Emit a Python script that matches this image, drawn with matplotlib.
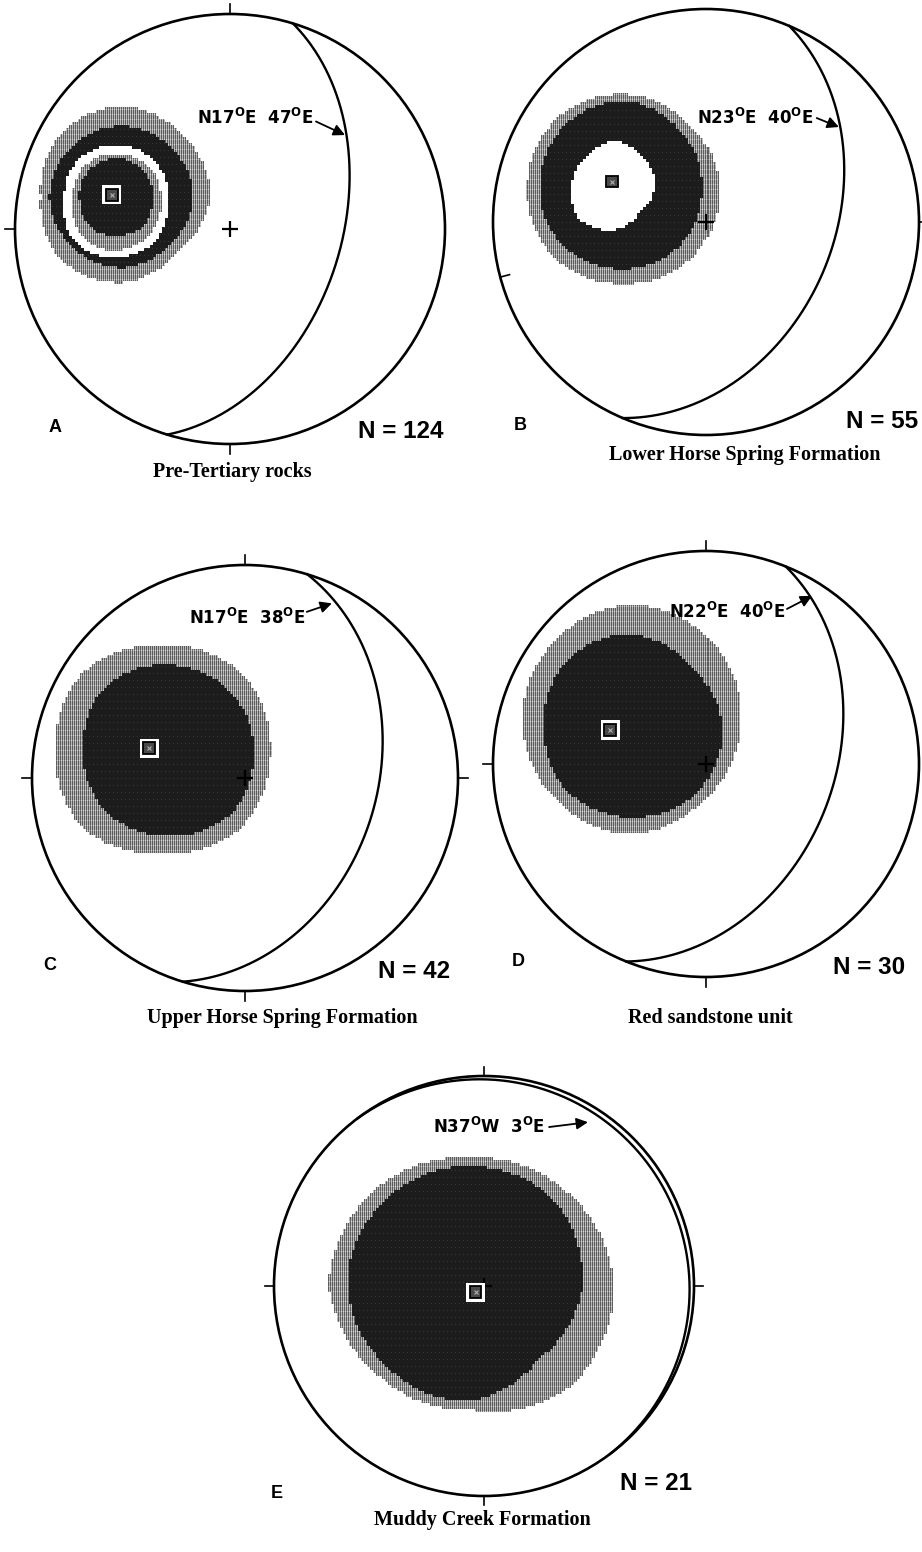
import numpy as np
import matplotlib
matplotlib.use("Agg")
import matplotlib.pyplot as plt
from matplotlib.patches import Circle, Rectangle

plt.rcParams['mathtext.fontset'] = 'custom'
plt.rcParams['mathtext.rm'] = 'DejaVu Sans:bold'
plt.rcParams['mathtext.default'] = 'rm'

W, H = 922, 1552

# panels, number of poles and rock unit
panels = ['A', 'B', 'C', 'D', 'E']
n_poles = [124, 55, 42, 30, 21]
units = ['Pre-Tertiary rocks', 'Lower Horse Spring Formation',
         'Upper Horse Spring Formation', 'Red sandstone unit',
         'Muddy Creek Formation']

# mean bedding plane: strike azimuth and dip (degrees)
strikes = [17, 23, 17, 22, 323]
dips = [47, 40, 38, 40, 3]

# density maximum (net units, x east, y north)
max_x = [-0.55, -0.44, -0.45, -0.45, -0.04]
max_y = [0.16, 0.19, 0.14, 0.16, -0.03]

# contour boundaries, outermost first: centre and radius toward
# E, NE, N, NW, W, SW, S, SE (net units)
levels_A_centres = [(-0.50, 0.15), (-0.50, 0.15), (-0.53, 0.13), (-0.53, 0.13), (-0.53, 0.13)]
levels_A_radii = [[0.41, 0.40, 0.42, 0.41, 0.38, 0.41, 0.40, 0.36],
                  [0.33, 0.32, 0.33, 0.33, 0.34, 0.33, 0.33, 0.31],
                  [0.24, 0.26, 0.26, 0.26, 0.24, 0.27, 0.26, 0.26],
                  [0.21, 0.22, 0.22, 0.22, 0.20, 0.23, 0.23, 0.22],
                  [0.17, 0.19, 0.20, 0.19, 0.17, 0.17, 0.16, 0.17]]
levels_B_centres = [(-0.39, 0.16), (-0.39, 0.16), (-0.44, 0.17)]
levels_B_radii = [[0.45, 0.43, 0.44, 0.45, 0.45, 0.46, 0.45, 0.46],
                  [0.37, 0.38, 0.41, 0.40, 0.39, 0.39, 0.38, 0.38],
                  [0.20, 0.20, 0.21, 0.18, 0.19, 0.22, 0.21, 0.18]]
levels_C_centres = [(-0.39, 0.13), (-0.36, 0.13)]
levels_C_radii = [[0.51, 0.52, 0.49, 0.52, 0.50, 0.52, 0.48, 0.52],
                  [0.40, 0.40, 0.40, 0.42, 0.40, 0.41, 0.40, 0.42]]
levels_D_centres = [(-0.35, 0.20), (-0.35, 0.18)]
levels_D_radii = [[0.51, 0.53, 0.55, 0.52, 0.51, 0.51, 0.53, 0.50],
                  [0.42, 0.39, 0.43, 0.43, 0.41, 0.43, 0.43, 0.44]]
levels_E_centres = [(-0.06, 0.01), (-0.09, 0.01)]
levels_E_radii = [[0.68, 0.63, 0.60, 0.64, 0.68, 0.62, 0.60, 0.68],
                  [0.56, 0.58, 0.56, 0.55, 0.56, 0.54, 0.56, 0.50]]

all_centres = [levels_A_centres, levels_B_centres, levels_C_centres,
               levels_D_centres, levels_E_centres]
all_radii = [levels_A_radii, levels_B_radii, levels_C_radii,
             levels_D_radii, levels_E_radii]

# net placement on the page (pixels): centre x, centre y, radius
nets = [(230, 229, 215), (706, 222, 213), (245, 778, 213),
        (706, 764, 213), (484, 1286, 210)]
# tick marks on the primitive: azimuth, +1 outward / -1 inward
ticks = [[(0, 1), (270, 1), (180, 1)],
         [(90, 1), (255, -1)],
         [(0, 1), (90, 1), (180, 1), (270, 1)],
         [(0, 1), (180, 1), (270, 1)],
         [(0, 1), (90, 1), (180, 1), (270, 1)]]
# label anchor (right end) and arrow tail / tip, in net units
label_pos = [(0.386, 0.516), (0.502, 0.488), (0.282, 0.751), (0.371, 0.714), (0.29, 0.757)]
arrow_tail = [(0.40, 0.50), (0.52, 0.488), (0.29, 0.78), (0.38, 0.728), (0.31, 0.757)]
arrow_tip = [(0.535, 0.437), (0.624, 0.446), (0.408, 0.82), (0.498, 0.789), (0.495, 0.78)]

# page text positions (pixels)
letter_xy = [(55, 428), (520, 425), (50, 965), (518, 962), (277, 1493)]
count_xy = [(443, 432), (918, 422), (450, 972), (905, 968), (692, 1483)]
unit_xy = [(232, 472), (745, 455), (282, 1018), (710, 1018), (482, 1520)]


def equal_area(trend, plunge):
    r = np.sqrt(2) * np.sin(np.radians(90 - plunge) / 2)
    return r * np.sin(np.radians(trend)), r * np.cos(np.radians(trend))


def great_circle(strike, dip):
    t = np.radians(np.linspace(0, 180, 361))
    s, dd, d = np.radians(strike), np.radians(strike + 90), np.radians(dip)
    sv = np.array([np.sin(s), np.cos(s), 0.0])
    dv = np.array([np.cos(d) * np.sin(dd), np.cos(d) * np.cos(dd), np.sin(d)])
    v = np.outer(np.cos(t), sv) + np.outer(np.sin(t), dv)
    plunge = np.degrees(np.arcsin(np.clip(v[:, 2], -1, 1)))
    trend = np.degrees(np.arctan2(v[:, 0], v[:, 1]))
    return equal_area(trend, plunge)


def bearing(strike):
    if strike <= 90:
        return f"N{strike}" + r"$^{O}$" + "E"
    return f"N{360 - strike}" + r"$^{O}$" + "W"


def density_image(centres, radii, n, block=3):
    idx = (np.arange(n) // block) * block + block / 2
    xb = -1 + idx * 2 / n
    X, Y = np.meshgrid(xb, -xb)
    lev = np.zeros((n, n), dtype=int)
    dirs = np.arange(0, 361, 45)
    for k, (c, r) in enumerate(zip(centres, radii)):
        dx, dy = X - c[0], Y - c[1]
        ang = np.degrees(np.arctan2(dy, dx)) % 360
        rb = np.interp(ang, dirs, list(r) + [r[0]])
        lev[np.hypot(dx, dy) <= rb] = k + 1
    # grey level: vertical screen lines broken every few rows
    cols = np.arange(n)
    rows = np.arange(n)
    grey = np.where(cols % 2 == 0, 0.36, 0.72)[None, :] * np.ones((n, 1))
    grey = np.where((rows % 5 == 0)[:, None], grey + 0.12, grey)
    dark = np.where((cols % 4 == 1)[None, :] & (rows % 7 == 3)[:, None], 0.22, 0.11)
    kind = lev % 3
    rgba = np.ones((n, n, 4))
    for ch in range(3):
        chan = np.ones((n, n))
        chan[kind == 1] = grey[kind == 1]
        chan[kind == 2] = dark[kind == 2]
        rgba[..., ch] = chan
    rgba[..., 3] = (lev > 0).astype(float)
    return rgba


fig = plt.figure(figsize=(W / 100, H / 100), dpi=100)
pad = 1.12
for i in range(5):
    cx, cy, R = nets[i]
    ax = fig.add_axes([(cx - pad * R) / W, 1 - (cy + pad * R) / H,
                       2 * pad * R / W, 2 * pad * R / H])
    ax.set_xlim(-pad, pad)
    ax.set_ylim(-pad, pad)
    ax.set_aspect('equal')
    ax.axis('off')

    img = density_image(all_centres[i], all_radii[i], int(2 * R))
    ax.imshow(img, extent=(-1, 1, -1, 1), interpolation='nearest', zorder=1)

    ax.add_patch(Circle((0, 0), 1, fill=False, lw=1.9, ec='black', zorder=3))
    gx, gy = great_circle(strikes[i], dips[i])
    ax.plot(gx, gy, color='black', lw=1.7, zorder=3)
    for az, sgn in ticks[i]:
        a = np.radians(az)
        r1 = 1 + sgn * 0.045
        ax.plot([np.sin(a), r1 * np.sin(a)], [np.cos(a), r1 * np.cos(a)],
                color='black', lw=1.2, zorder=3)
    ax.plot(0, 0, '+', ms=12, mew=1.6, color='black', zorder=4)

    mx, my = max_x[i], max_y[i]
    ax.add_patch(Rectangle((mx - 0.045, my - 0.045), 0.09, 0.09,
                           fc='white', ec='none', zorder=5))
    ax.add_patch(Rectangle((mx - 0.028, my - 0.028), 0.056, 0.056,
                           fc='#4a4a4a', ec='black', lw=1.3, zorder=6))
    ax.plot(mx, my, 'x', ms=3, mew=0.8, color='#b0b0b0', zorder=7)

    label = bearing(strikes[i]) + f"  {dips[i]}" + r"$^{O}$" + "E"
    ax.text(*label_pos[i], label, ha='right', va='center', fontsize=12,
            fontweight='bold', family='DejaVu Sans', zorder=8)
    ax.annotate('', xy=arrow_tip[i], xytext=arrow_tail[i], zorder=8,
                arrowprops=dict(arrowstyle='-|>', color='black', lw=1.3,
                                mutation_scale=17, shrinkA=0, shrinkB=0))

    lx, ly = letter_xy[i]
    fig.text(lx / W, 1 - ly / H, panels[i], ha='center', va='center',
             fontsize=13, fontweight='bold', family='Liberation Sans')
    nx, ny = count_xy[i]
    fig.text(nx / W, 1 - ny / H, f"N = {n_poles[i]}", ha='right', va='center',
             fontsize=17.5, fontweight='bold', family='Liberation Sans')
    ux, uy = unit_xy[i]
    fig.text(ux / W, 1 - uy / H, units[i], ha='center', va='center',
             fontsize=14.5, fontweight='bold', family='Liberation Serif')

fig.savefig('out.png', dpi=100, facecolor='white')
